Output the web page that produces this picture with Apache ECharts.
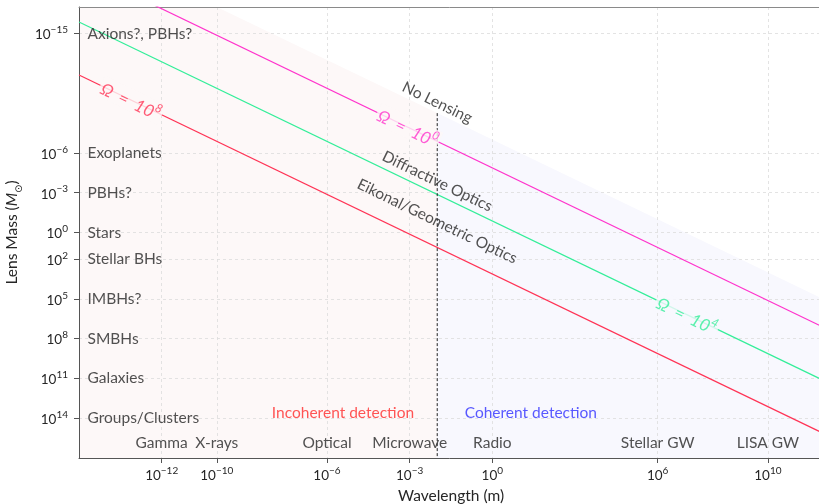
<!DOCTYPE html>
<html>
<head>
<meta charset="utf-8">
<script src="https://cdn.jsdelivr.net/npm/echarts@6/dist/echarts.min.js"></script>
<style>
  html, body { margin: 0; padding: 0; background: #fff; }
  #chart { width: 819px; height: 504px; }
</style>
</head>
<body>
<div id="chart"></div>
<script>
// Lens mass classes (y axis) and wavelength bands (x axis)
const massCategories = ['Axions?, PBHs?', 'Exoplanets', 'PBHs?', 'Stars', 'Stellar BHs',
                        'IMBHs?', 'SMBHs', 'Galaxies', 'Groups/Clusters'];
const massValues = [1e-15, 1e-6, 1e-3, 1e0, 1e2, 1e5, 1e8, 1e11, 1e14];
const bandNames = ['Gamma', 'X-rays', 'Optical', 'Microwave', 'Radio', 'Stellar GW', 'LISA GW'];
const bandWavelengths = [1e-12, 1e-10, 1e-6, 1e-3, 1e0, 1e6, 1e10];

// Tick values
const xTicks = [1e-12, 1e-10, 1e-6, 1e-3, 1e0, 1e6, 1e10];
const yTicks = [1e-15, 1e-6, 1e-3, 1e0, 1e2, 1e5, 1e8, 1e11, 1e14];

// Lines of constant Omega: [wavelength (m), lens mass (Msun)] end points
const omega8 = [[1e-15, 1.35e-12], [1e12, 1.35e15]];
const omega4 = [[1e-15, 1.35e-16], [1e12, 1.35e11]];
const omega0 = [[1e-15, 1.35e-20], [1e12, 1.35e7]];
const omegaExponents = ['8', '4', '0'];
// Points on each line where its label sits
const omegaLabelAt = [[7.8e-14, 1.05e-10], [1.17e7, 1.58e6], [8.7e-4, 1.17e-8]];

// Lensing boundary (no lensing above it), split at the incoherent/coherent transition
const transitionWavelength = 1e-2;
const boundaryIncoherent = [[1e-15, 1e-22], [1e-2, 1e-9]];
const boundaryCoherent = [[1e-2, 1e-9], [1e12, 1e5]];

// Regime names along the transition line
const regimeNames = ['No Lensing', 'Diffractive Optics', 'Eikonal/Geometric Optics'];
const regimeMass = [1.6e-10, 1.4e-4, 0.145];

// Detection mode labels
const detectionNames = ['Incoherent detection', 'Coherent detection'];
const detectionWavelength = [3.8e-6, 25];

// ---- layout / style ----
const FONT = 'Lato';
const TEXT = '#262626';
const PINK = '#fdf8f8';
const LAVENDER = '#f8f8fe';
const RED = '#ff3355', GREEN = '#33ee99', MAGENTA = '#ff33cc';
const SLOPE_DEG = -25.74;
const BAND_ROW_MASS = 7.6e15;
const DETECTION_ROW_MASS = 4.1e13;
const CATEGORY_X = 1e-15;
const LABEL_SIZE = 15.5;

function pow10Label(v) {
  const e = Math.round(Math.log10(v));
  const s = (e < 0 ? '−' : '') + Math.abs(e);
  return '{b|10}{s|' + s + '}';
}
const tickRich = {
  b: { fontFamily: FONT, fontSize: 13.5, color: TEXT, lineHeight: 17, verticalAlign: 'bottom' },
  s: { fontFamily: FONT, fontSize: 10, color: TEXT, lineHeight: 7, verticalAlign: 'top' }
};

const chart = echarts.init(document.getElementById('chart'), null, { renderer: 'canvas' });

function textSeries(items, label, z) {
  return {
    type: 'scatter', silent: true, clip: false, z: z || 6,
    symbolSize: 1, itemStyle: { color: 'rgba(0,0,0,0)' },
    data: items,
    label: Object.assign({ show: true, fontFamily: FONT, fontSize: LABEL_SIZE, color: TEXT, formatter: '{b}' }, label)
  };
}

function omegaLine(data, color) {
  return {
    type: 'line', data: data, symbol: 'none', z: 3, silent: true,
    lineStyle: { color: color, width: 1.2 }
  };
}

function fillSeries(data, color) {
  return {
    type: 'line', data: data, symbol: 'none', z: -1, silent: true,
    lineStyle: { width: 0 },
    areaStyle: { color: color, opacity: 1, origin: 'end' }
  };
}

const omegaColors = [RED, GREEN, MAGENTA];
const omegaBg = [PINK, LAVENDER, PINK];
const omegaLabelItems = omegaLabelAt.map((p, i) => ({
  name: omegaExponents[i],
  value: p,
  label: {
    color: omegaColors[i],
    backgroundColor: omegaBg[i],
    formatter: '{t|Ω\u2002=\u200210}{u|' + omegaExponents[i] + '}',
    rich: {
      t: { fontFamily: FONT, fontStyle: 'italic', fontSize: 17, color: omegaColors[i], lineHeight: 21, verticalAlign: 'bottom' },
      u: { fontFamily: FONT, fontStyle: 'italic', fontSize: 12, color: omegaColors[i], lineHeight: 9, verticalAlign: 'top' }
    }
  }
}));

const option = {
  animation: false,
  backgroundColor: '#ffffff',
  grid: { left: 79, right: -4, top: 7, bottom: 46, containLabel: false, outerBoundsMode: 'none' },
  xAxis: [{
    type: 'log', logBase: 10, min: 1e-15, max: 1e12,
    name: 'Wavelength (m)', nameLocation: 'middle', nameGap: 30,
    nameTextStyle: { fontFamily: FONT, fontSize: 15.5, color: TEXT },
    axisLine: { show: true, lineStyle: { color: '#555', width: 1 } },
    axisTick: { show: true, length: 5, customValues: xTicks, lineStyle: { color: '#555' } },
    minorTick: { show: false },
    axisLabel: { customValues: xTicks, margin: 8, formatter: pow10Label, rich: tickRich },
    splitLine: { show: true, lineStyle: { color: '#dcdcdc', width: 0.8, type: [3, 3] } }
  }, {
    type: 'log', logBase: 10, min: 1e-15, max: 1e12, position: 'top',
    axisLine: { show: true, lineStyle: { color: '#8a8a8a', width: 1 } },
    axisTick: { show: false }, axisLabel: { show: false }, splitLine: { show: false }
  }],
  yAxis: {
    type: 'log', logBase: 10, min: 1e-17, max: 1e17, inverse: true,
    name: '{n|Lens Mass (}{i|M}{o|⊙}{n|)}', nameLocation: 'middle', nameGap: 54,
    nameTextStyle: {
      rich: {
        n: { fontFamily: FONT, fontSize: 15.5, color: TEXT, lineHeight: 20, verticalAlign: 'top' },
        i: { fontFamily: FONT, fontStyle: 'italic', fontSize: 15.5, color: TEXT, lineHeight: 20, verticalAlign: 'top' },
        o: { fontFamily: 'DejaVu Sans', fontSize: 10, color: TEXT, lineHeight: 11, verticalAlign: 'bottom' }
      }
    },
    axisLine: { show: true, lineStyle: { color: '#555', width: 1 } },
    axisTick: { show: true, length: 5, customValues: yTicks, lineStyle: { color: '#555' } },
    minorTick: { show: false },
    axisLabel: { customValues: yTicks, margin: 11, formatter: pow10Label, rich: tickRich },
    splitLine: { show: true, lineStyle: { color: '#dcdcdc', width: 0.8, type: [3, 3] } }
  },
  series: [
    fillSeries(boundaryIncoherent, PINK),
    fillSeries(boundaryCoherent, LAVENDER),
    omegaLine(omega8, RED),
    omegaLine(omega4, GREEN),
    omegaLine(omega0, MAGENTA),
    {
      type: 'line', symbol: 'none', z: 3, silent: true,
      data: [[transitionWavelength, boundaryCoherent[0][1]], [transitionWavelength, 1e17]],
      lineStyle: { color: '#222', width: 1, type: [3, 2] }
    },
    // Omega labels sitting on their lines
    textSeries(omegaLabelItems, { position: 'inside', rotate: SLOPE_DEG, padding: [0, 2] }, 5),
    // Mass classes on the left
    textSeries(massCategories.map((n, i) => ({ name: n, value: [CATEGORY_X, massValues[i]] })),
      { position: 'right', distance: 8 }),
    // Wavelength bands along the bottom
    textSeries(bandNames.map((n, i) => ({ name: n, value: [bandWavelengths[i], BAND_ROW_MASS] })),
      { position: 'inside' }),
    // Detection modes
    textSeries(detectionNames.map((n, i) => ({
      name: n, value: [detectionWavelength[i], DETECTION_ROW_MASS],
      label: { color: i === 0 ? '#ff2a2a' : '#2f2fff' }
    })), { position: 'inside' }),
    // Lensing regimes along the transition line
    textSeries(regimeNames.map((n, i) => ({ name: n, value: [transitionWavelength, regimeMass[i]] })),
      { position: 'inside', rotate: SLOPE_DEG })
  ]
};

chart.setOption(option);
</script>
</body>
</html>
